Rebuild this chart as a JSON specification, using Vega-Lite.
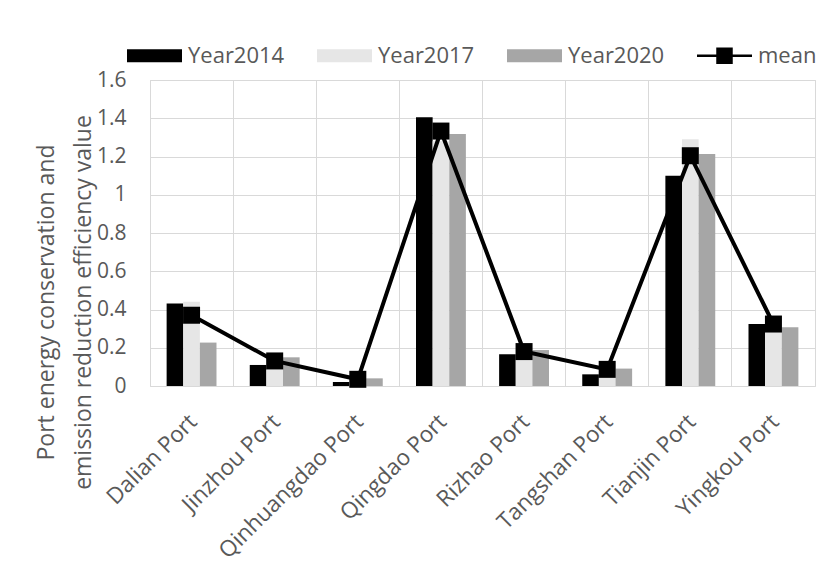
{
  "$schema": "https://vega.github.io/schema/vega-lite/v6.json",
  "width": 665,
  "height": 306,
  "autosize": "none",
  "padding": {"left": 150, "top": 80, "right": 16, "bottom": 188},
  "background": "white",
  "config": {
    "font": "Open Sans",
    "view": {"stroke": "#d9d9d9", "strokeWidth": 1}
  },
  "data": {
    "values": [
      {"port": "Dalian Port", "series": "Year2014", "value": 0.432},
      {"port": "Dalian Port", "series": "Year2017", "value": 0.441},
      {"port": "Dalian Port", "series": "Year2020", "value": 0.227},
      {"port": "Dalian Port", "series": "mean", "value": 0.37},
      {"port": "Jinzhou Port", "series": "Year2014", "value": 0.11},
      {"port": "Jinzhou Port", "series": "Year2017", "value": 0.087},
      {"port": "Jinzhou Port", "series": "Year2020", "value": 0.15},
      {"port": "Jinzhou Port", "series": "mean", "value": 0.131},
      {"port": "Qinhuangdao Port", "series": "Year2014", "value": 0.021},
      {"port": "Qinhuangdao Port", "series": "Year2017", "value": 0.03},
      {"port": "Qinhuangdao Port", "series": "Year2020", "value": 0.04},
      {"port": "Qinhuangdao Port", "series": "mean", "value": 0.035},
      {"port": "Qingdao Port", "series": "Year2014", "value": 1.405},
      {"port": "Qingdao Port", "series": "Year2017", "value": 1.28},
      {"port": "Qingdao Port", "series": "Year2020", "value": 1.318},
      {"port": "Qingdao Port", "series": "mean", "value": 1.333},
      {"port": "Rizhao Port", "series": "Year2014", "value": 0.166},
      {"port": "Rizhao Port", "series": "Year2017", "value": 0.136},
      {"port": "Rizhao Port", "series": "Year2020", "value": 0.188},
      {"port": "Rizhao Port", "series": "mean", "value": 0.18},
      {"port": "Tangshan Port", "series": "Year2014", "value": 0.061},
      {"port": "Tangshan Port", "series": "Year2017", "value": 0.044},
      {"port": "Tangshan Port", "series": "Year2020", "value": 0.091},
      {"port": "Tangshan Port", "series": "mean", "value": 0.087},
      {"port": "Tianjin Port", "series": "Year2014", "value": 1.1},
      {"port": "Tianjin Port", "series": "Year2017", "value": 1.29},
      {"port": "Tianjin Port", "series": "Year2020", "value": 1.213},
      {"port": "Tianjin Port", "series": "mean", "value": 1.204},
      {"port": "Yingkou Port", "series": "Year2014", "value": 0.324},
      {"port": "Yingkou Port", "series": "Year2017", "value": 0.281},
      {"port": "Yingkou Port", "series": "Year2020", "value": 0.307},
      {"port": "Yingkou Port", "series": "mean", "value": 0.324}
    ]
  },
  "encoding": {
    "y": {
      "field": "value",
      "type": "quantitative",
      "scale": {"domain": [0, 1.6], "nice": false, "zero": true},
      "axis": {
        "title": ["Port energy conservation and", "emission reduction efficiency value"],
        "values": [0, 0.2, 0.4, 0.6, 0.8, 1, 1.2, 1.4, 1.6],
        "format": "~g",
        "grid": true,
        "gridColor": "#d9d9d9",
        "gridWidth": 1,
        "domain": false,
        "ticks": false,
        "labelFontSize": 21,
        "labelColor": "#595959",
        "labelPadding": 24,
        "titleFontSize": 23,
        "titleColor": "#595959",
        "titleFontWeight": "normal",
        "titleLineHeight": 37,
        "titleBaseline": "alphabetic",
        "titleAngle": -90,
        "titleAlign": "center",
        "titleX": -97,
        "titleY": 222
      }
    }
  },
  "layer": [
    {
      "transform": [{"filter": "datum.series !== 'mean'"}],
      "mark": {"type": "bar"},
      "encoding": {
        "x": {
          "field": "port",
          "type": "nominal",
          "sort": null,
          "scale": {"paddingInner": 0, "paddingOuter": 0},
          "axis": {
            "title": null,
            "labelAngle": -45,
            "labelFontSize": 22.5,
            "labelColor": "#595959",
            "labelPadding": 24,
            "labelOffset": -6,
            "labelLimit": 0,
            "ticks": false,
            "domain": false,
            "grid": false
          }
        },
        "xOffset": {
          "field": "series",
          "sort": ["Year2014", "Year2017", "Year2020"],
          "scale": {"paddingInner": 0, "paddingOuter": 1.13}
        },
        "color": {
          "field": "series",
          "type": "nominal",
          "scale": {
            "domain": ["Year2014", "Year2017", "Year2020", "mean"],
            "range": ["#000000", "#e6e6e6", "#a6a6a6", "#000000"]
          },
          "legend": {
            "orient": "none",
            "legendX": -23,
            "legendY": -52,
            "direction": "horizontal",
            "title": null,
            "labelFontSize": 22,
            "labelColor": "#595959",
            "labelLimit": 0,
            "symbolSize": 3025,
            "labelOffset": 6,
            "columnPadding": 32,
            "symbolStrokeWidth": 0,
            "encode": {
              "symbols": {
                "update": {
                  "shape": {"signal": "datum.value === 'mean' ? 'M-1,-0.045H1V0.045H-1Z M-0.3,-0.3H0.3V0.3H-0.3Z' : 'M-1,-0.236H1V0.236H-1Z'"},
                  "opacity": {"value": 1}
                }
              }
            }
          }
        }
      }
    },
    {
      "transform": [{"filter": "datum.series === 'mean'"}],
      "mark": {"type": "line", "color": "#000000", "strokeWidth": 4},
      "encoding": {
        "x": {
          "field": "port",
          "type": "nominal",
          "sort": null,
          "axis": {
            "title": null,
            "grid": true,
            "gridColor": "#d9d9d9",
            "bandPosition": 0,
            "labels": false,
            "ticks": false,
            "domain": true,
            "domainColor": "#d9d9d9"
          }
        }
      }
    },
    {
      "transform": [{"filter": "datum.series === 'mean'"}],
      "mark": {"type": "square", "color": "#000000", "size": 289, "opacity": 1, "filled": true},
      "encoding": {
        "x": {"field": "port", "type": "nominal", "sort": null, "axis": null}
      }
    }
  ],
  "resolve": {"axis": {"x": "independent"}}
}
